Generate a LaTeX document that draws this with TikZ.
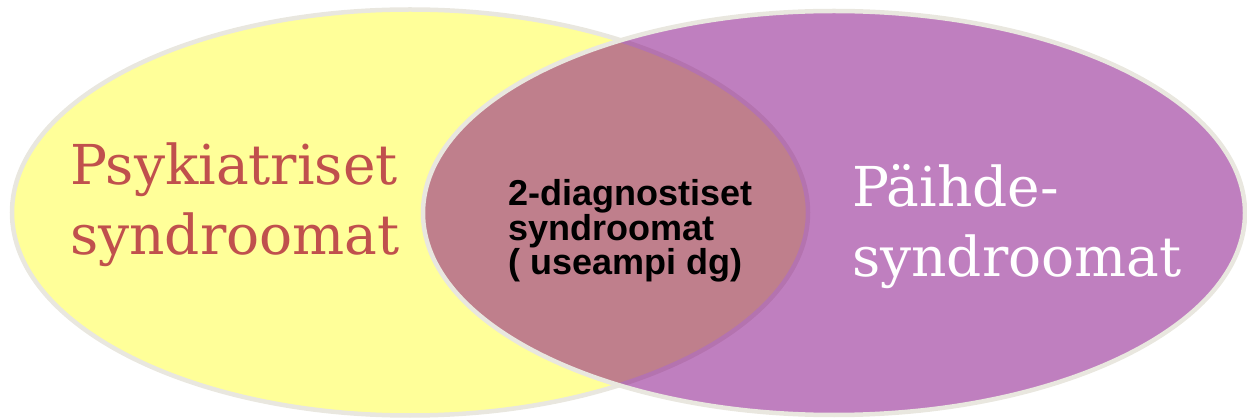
\documentclass[tikz,border=0pt]{standalone}
\usepackage{fontspec}
\setmainfont{DejaVu Serif}
\newfontfamily\boldsans{Liberation Sans}
\usetikzlibrary{positioning}
\definecolor{rimgray}{RGB}{233,231,223}
\definecolor{lightyellow}{RGB}{255,255,153}
\definecolor{plum}{RGB}{128,0,128}
\definecolor{brickred}{RGB}{192,80,77}

\begin{document}
\begin{tikzpicture}[x=1pt,y=-1pt,
  rim/.style={draw=rimgray,line width=4.5pt},
  bigtext/.style={font=\fontsize{55}{70}\selectfont,align=left,inner sep=0pt,anchor=base west},
  midtext/.style={font=\boldsans\bfseries\fontsize{36}{33.5}\selectfont,align=left,inner sep=0pt,anchor=base west}]
\useasboundingbox (0,0) rectangle (1247,419);
% the two sets
\draw[rim,fill=lightyellow] (410,212.5) ellipse [x radius=398,y radius=203];
\draw[rim,fill=plum,fill opacity=0.5] (834,213) ellipse [x radius=411,y radius=202];
% labels (base = last line)
\node[bigtext,text=brickred] (psy) at (70,255) {Psykiatriset\\syndroomat};
\node[bigtext,text=white] (paihde) at (852,277) {Päihde-\\syndroomat};
\node[midtext] (dual) at (508,275) {2-diagnostiset\\syndroomat\\( useampi dg)};
\end{tikzpicture}
\end{document}
